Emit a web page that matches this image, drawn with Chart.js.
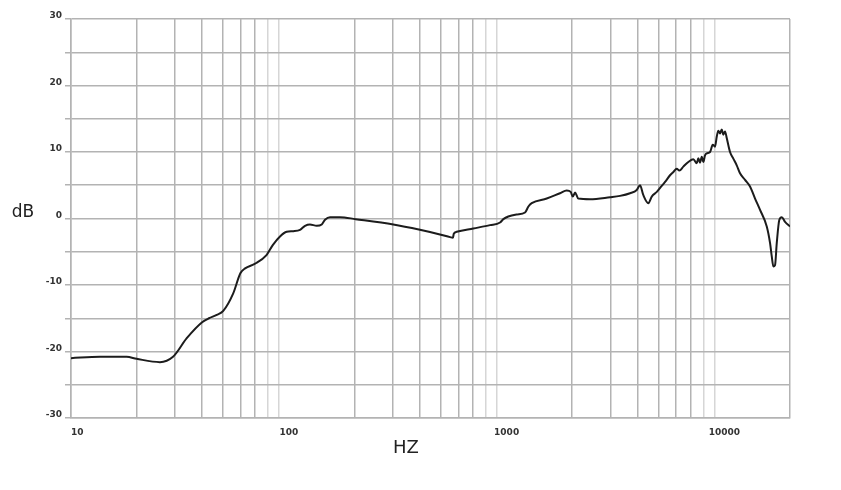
<!DOCTYPE html>
<html>
<head>
<meta charset="utf-8">
<script src="https://cdn.jsdelivr.net/npm/chart.js@4.4.1/dist/chart.umd.min.js"></script>
<style>
  body { margin: 0; background: #fff; }
  #graphic { display: block; }
</style>
</head>
<body>
<canvas id="graphic" width="841" height="490"></canvas>
<script>
// frequency response
const freqHz = [
  10, 13.6, 18, 20, 25.6, 29.4, 34, 40, 43, 46.7, 50, 55.5, 60, 63, 70, 79, 84.4, 91.1, 97.8,
  104.9, 112.6, 118.7, 125.1, 134.3, 141.6, 146.6, 154.5, 171.8, 202.8, 301.8, 400, 494, 550, 567, 572, 590,
  703, 839, 933, 966, 1018, 1113, 1215, 1259, 1304, 1528, 1758, 1888, 1969, 2012, 2062, 2135, 2415,
  2985, 3317, 3687, 3957, 4098, 4244, 4473, 4638, 4892, 5155, 5338, 5627, 5828, 6039, 6207, 6476,
  6829, 7199, 7463, 7590, 7727, 7868, 8000, 8143, 8295, 8590, 8837, 9055, 9218, 9376, 9546, 9719,
  9884, 10064, 10246, 10610, 10986, 11388, 11791, 12434, 13107, 13822, 14572, 15643, 16199, 16494,
  16773, 17077, 17386, 17869, 18330, 18982, 20000,
];
const levelDb = [
  -21.0, -20.8, -20.8, -21.1, -21.6, -20.8, -18.0, -15.6, -15.0, -14.5, -13.9, -11.3, -8.2, -7.5, -6.8, -5.5, -4.0, -2.7, -2.0,
  -1.9, -1.7, -1.1, -0.9, -1.1, -0.9, -0.2, 0.2, 0.2, -0.1, -0.9, -1.7, -2.4, -2.8, -2.9, -2.3, -2.0,
  -1.5, -1.0, -0.6, -0.1, 0.3, 0.6, 0.9, 1.8, 2.3, 3.0, 3.8, 4.2, 4.0, 3.3, 3.9, 3.0, 2.9,
  3.2, 3.4, 3.8, 4.3, 5.0, 3.5, 2.3, 3.3, 4.0, 4.9, 5.5, 6.5, 7.0, 7.5, 7.2, 7.8,
  8.5, 8.9, 8.3, 9.05, 8.4, 9.3, 8.5, 9.5, 9.8, 10.0, 11.1, 10.8, 12.3, 13.2, 12.8, 13.4,
  12.6, 13.1, 12.1, 10.0, 9.0, 8.0, 6.8, 5.8, 4.8, 3.0, 1.3, -1.2, -3.7, -5.7,
  -7.2, -7.0, -3.7, -0.2, 0.2, -0.5, -1.2,
];

// x grid: 20..90, 200..900, 2000..9000 plus edges; labels sit on the decades
const xTicks = [
  10, 20, 30, 40, 50, 60, 70, 80, 90, 100,
  200, 300, 400, 500, 600, 700, 800, 900, 1000,
  2000, 3000, 4000, 5000, 6000, 7000, 8000, 9000, 10000, 20000,
];
const xLabels = [10, 100, 1000, 10000];
const yLabels = [30, 20, 10, 0, -10, -20, -30];

const gridGray = '#b3b3b3';
const lightGray = '#d6d6d6';

const axisTitles = {
  id: 'axisTitles',
  afterDraw(chart) {
    const { ctx } = chart;
    ctx.save();
    ctx.fillStyle = '#222';
    ctx.textAlign = 'center';
    ctx.textBaseline = 'middle';
    ctx.font = '17px "DejaVu Sans"';
    ctx.fillText('dB', 23, 213);
    ctx.font = '18px "DejaVu Sans"';
    ctx.fillText('HZ', 406, 448);
    ctx.restore();
  },
};

const ctx = document.querySelector('#graphic').getContext('2d');
const graphic = new Chart(ctx, {
  type: 'line',
  data: {
    datasets: [{
      data: freqHz.map((f, i) => ({ x: f, y: levelDb[i] })),
      borderColor: '#1c1c1c',
      borderWidth: 2,
      pointRadius: 0,
      cubicInterpolationMode: 'monotone',
      fill: false,
    }],
  },
  options: {
    responsive: false,
    animation: false,
    layout: { padding: { top: 19, right: 51, left: 0, bottom: 0 } },
    plugins: { legend: { display: false }, tooltip: { enabled: false } },
    scales: {
      x: {
        type: 'logarithmic',
        min: 10,
        max: 20000,
        afterBuildTicks: (scale) => { scale.ticks = xTicks.map((v) => ({ value: v })); },
        afterFit: (scale) => { scale.height = 72; },
        grid: {
          drawTicks: false,
          lineWidth: 1.5,
          color: (c) => {
            const v = c.tick && c.tick.value;
            if (xLabels.includes(v) && v !== 10) return 'rgba(0,0,0,0)';
            const lead = Math.round(v / Math.pow(10, Math.floor(Math.log10(v))));
            return (lead === 8 || lead === 9) ? lightGray : gridGray;
          },
        },
        border: { color: gridGray, width: 1.5 },
        ticks: {
          autoSkip: false,
          maxRotation: 0,
          align: 'inner',
          padding: 9,
          color: '#333',
          font: { family: 'DejaVu Sans', size: 9, weight: 'bold' },
          callback: (v) => (xLabels.includes(v) ? String(v) : ''),
        },
      },
      y: {
        min: -30,
        max: 30,
        afterBuildTicks: (scale) => {
          const t = [];
          for (let v = -30; v <= 30; v += 5) t.push({ value: v });
          scale.ticks = t;
        },
        afterFit: (scale) => { scale.width = 71; },
        grid: { color: gridGray, lineWidth: 1.5, tickLength: 6 },
        border: { color: gridGray, width: 1.5 },
        ticks: {
          padding: 3,
          labelOffset: -3,
          color: '#333',
          font: { family: 'DejaVu Sans', size: 9, weight: 'bold' },
          callback: (v) => (yLabels.includes(v) ? String(v) : ''),
        },
      },
    },
  },
  plugins: [axisTitles],
});
graphic.render();
</script>
</body>
</html>
